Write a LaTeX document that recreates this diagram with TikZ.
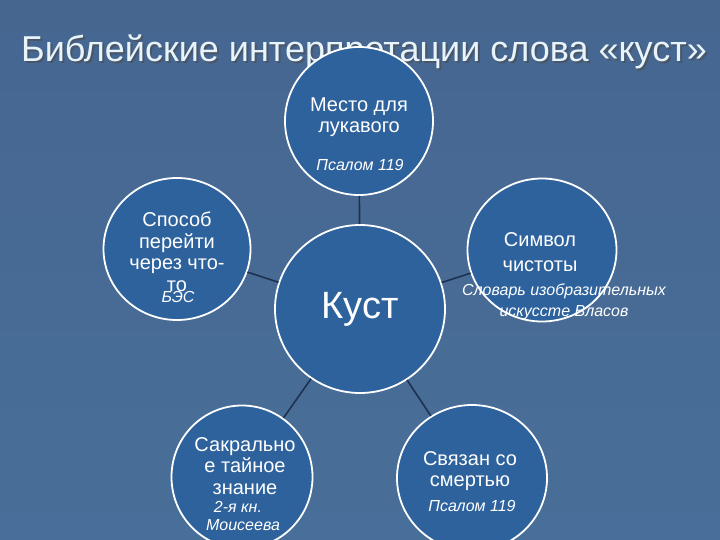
\documentclass[tikz,border=0pt]{standalone}
\usepackage{fontspec}
\setmainfont{Liberation Sans}
\usetikzlibrary{shapes.geometric}
\definecolor{fonverh}{RGB}{70,102,144}
\definecolor{fonsered}{RGB}{88,123,166}
\definecolor{fonniz}{RGB}{72,111,153}
\definecolor{krugfill}{RGB}{46,98,157}
\definecolor{liniya}{RGB}{30,50,80}
\definecolor{titulcol}{RGB}{232,244,252}
\tikzset{
    krug/.style 2 args={ellipse, fill=krugfill, draw=white, line width=1.8pt, minimum width=#1, minimum height=#2, inner sep=0pt},
    svyaz/.style={draw=liniya, line width=1.6pt},
    txt/.style={text=white, font=\fontsize{20}{21.5}\selectfont, align=center, inner sep=0pt},
    ist/.style={text=white, font=\fontsize{16}{18}\selectfont\itshape, align=center, inner sep=0pt}
}
\begin{document}
\begin{tikzpicture}[x=1pt,y=-1pt]
\useasboundingbox (0,0) rectangle (720,540);
\shade[top color=fonverh, middle color=fonsered, bottom color=fonniz] (0,0) rectangle (720,540);
% title with shadow
\node[text=black!70, opacity=0.6, font=\fontsize{36}{40}\selectfont] at (366,54) {Библейские интерпретации слова «куст»};
\node[text=titulcol, font=\fontsize{36}{40}\selectfont] (titul) at (364,52) {Библейские интерпретации слова «куст»};
% circles
\node[krug={170}{168}] (kust) at (360,309) {};
\foreach \p/\x/\y/\w/\h in {mesto/359/121/148/148, sposob/177/249/147/142, simvol/542/250/149/143, sakral/242/477/141/143, svyazan/472/478/150/146}{
    \node[krug={\w}{\h}] (\p) at (\x,\y) {};
}
\foreach \p in {mesto, sposob, simvol, sakral, svyazan}{
    \draw[svyaz] (kust) -- (\p);
}
% texts
\node[text=white, font=\fontsize{38}{40}\selectfont] at (kust) {Куст};
\node[txt] at (359,117) {Место для\\лукавого};
\node[ist] at (360,165) {Псалом 119};
\node[txt] at (177,252) {Способ\\перейти\\через что-\\то};
\node[ist] at (178,297) {БЭС};
\node[txt, font=\fontsize{20}{24.5}\selectfont] at (540,252) {Символ\\чистоты};
\node[ist, font=\fontsize{16}{21}\selectfont\itshape] at (564,302) {Словарь изобразительных\\искусстe Власов};
\node[txt] at (245,466) {Сакрально\\е тайное\\знание};
\node[ist] at (238,507) {2-я кн.};
\node[ist] at (243,525) {Моисеева};
\node[txt] at (470,471) {Связан со\\смертью};
\node[ist] at (472,506) {Псалом 119};
\end{tikzpicture}
\end{document}
